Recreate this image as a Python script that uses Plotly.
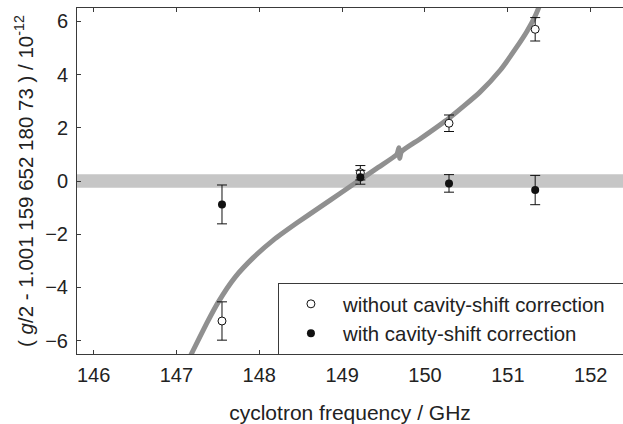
import plotly.graph_objects as go

# ---- data ----
freq = [147.55, 149.22, 150.29, 151.33]
g_without = [-5.26, 0.31, 2.17, 5.70]
err_without = [0.72, 0.27, 0.31, 0.44]
g_with = [-0.88, 0.14, -0.09, -0.34]
err_with = [0.73, 0.26, 0.33, 0.55]

band_center = 0.0
band_half = 0.25

curve_x = [147.10, 147.204, 147.365, 147.505, 147.707, 147.928, 148.169, 148.452,
           148.733, 148.974, 149.176, 149.44, 149.66, 149.685, 149.695, 149.715,
           149.94, 150.29, 150.66, 150.91, 151.10, 151.23, 151.33, 151.42, 151.50]
curve_y = [-7.0, -6.35, -5.35, -4.55, -3.62, -2.88, -2.22, -1.58,
           -0.98, -0.47, -0.04, 0.52, 1.00, 1.25, 0.85, 1.10,
           1.58, 2.36, 3.33, 4.17, 5.00, 5.62, 6.20, 6.90, 7.65]

x_range = [145.8, 152.39]
y_range = [-6.5, 6.5]
x_ticks = [146, 147, 148, 149, 150, 151, 152]
y_ticks = [-6, -4, -2, 0, 2, 4, 6]

FONT = "Liberation Sans, Arial, sans-serif"
AX = "#3a3a3a"
PAD = "\u00a0" * 2

fig = go.Figure()

# combined value band
fig.add_shape(type="rect", xref="paper", x0=0, x1=1, yref="y",
              y0=band_center - band_half, y1=band_center + band_half,
              fillcolor="#c6c6c6", line_width=0, layer="below")

fig.add_trace(go.Scatter(x=curve_x, y=curve_y, mode="lines",
                         line=dict(color="#909090", width=5, shape="spline", smoothing=0.5),
                         showlegend=False, hoverinfo="skip"))

fig.add_trace(go.Scatter(
    x=freq, y=g_without, mode="markers", name="without cavity-shift correction" + PAD,
    marker=dict(symbol="circle", size=8, color="white", line=dict(color="#111", width=1)),
    error_y=dict(type="data", array=err_without, color="#111", thickness=1, width=5)))

fig.add_trace(go.Scatter(
    x=freq, y=g_with, mode="markers", name="with cavity-shift correction",
    marker=dict(symbol="circle", size=8, color="#111", line=dict(color="#111", width=0)),
    error_y=dict(type="data", array=err_with, color="#111", thickness=1, width=5)))

fig.update_layout(
    width=623, height=424,
    margin=dict(l=77, r=0, t=8, b=70, autoexpand=False),
    paper_bgcolor="white", plot_bgcolor="white",
    font=dict(family=FONT, size=20, color="#222"),
    legend=dict(x=0.368, y=0.205, xanchor="left", yanchor="top",
                bgcolor="white", bordercolor=AX, borderwidth=1, itemwidth=54,
                font=dict(size=20.4, color="#222"), tracegroupgap=0),
)

fig.update_xaxes(range=x_range, tickvals=x_ticks, ticks="inside", ticklen=4,
                 tickcolor=AX, showline=True, linecolor=AX, linewidth=1,
                 mirror="ticks", showgrid=False, zeroline=False, automargin=False,
                 tickfont=dict(size=20), ticklabelstandoff=3,
                 title=dict(text="cyclotron frequency / GHz", font=dict(size=21), standoff=26))
fig.update_yaxes(range=y_range, tickvals=y_ticks, ticks="inside", ticklen=4,
                 tickcolor=AX, showline=True, linecolor=AX, linewidth=1,
                 mirror=False, showgrid=False, zeroline=False, automargin=False,
                 tickfont=dict(size=20), ticklabelstandoff=4,
                 title=dict(text="( <i>g</i>/2 - 1.001 159 652 180 73 ) / 10<sup>-12</sup>",
                            font=dict(size=20.5), standoff=6))

fig.write_html("out.html", config={"displayModeBar": False},
               post_script="document.body.style.margin='0px';")
